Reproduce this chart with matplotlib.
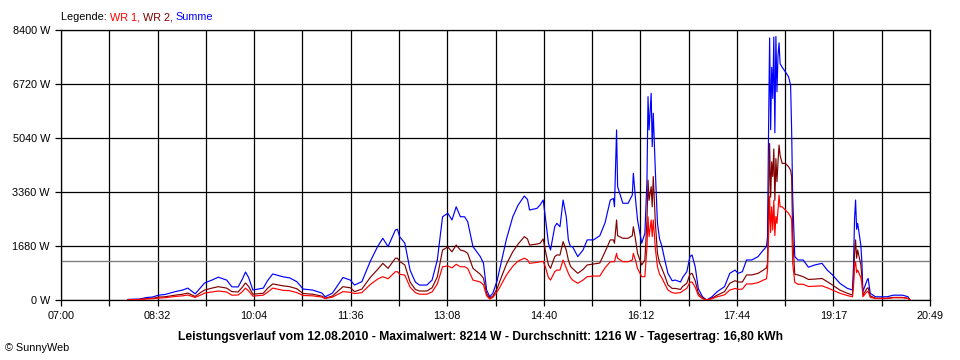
import matplotlib
matplotlib.use("Agg")
import matplotlib.pyplot as plt
from matplotlib.ticker import FixedLocator, FixedFormatter, NullLocator

# ---------------- data ----------------
times = ["08:04","08:15","08:22","08:27","08:33","08:39","08:49","08:56","09:01","09:08",
         "09:13","09:17","09:24","09:30","09:38","09:43","09:49","09:53","09:56","09:59",
         "10:03","10:13","10:17","10:22","10:32","10:38","10:45","10:51","11:00","11:09",
         "11:12","11:19","11:29","11:36","11:40","11:47","11:55","12:02","12:07","12:12",
         "12:19","12:21","12:23","12:28","12:33","12:38","12:42","12:49","12:54","12:59",
         "13:04","13:09","13:13","13:17","13:21","13:25","13:28","13:33","13:40","13:43",
         "13:46","13:49","13:52","13:56","13:59","14:05","14:11","14:16","14:22","14:25",
         "14:27","14:34","14:37","14:40","14:42","14:45","14:47","14:51","14:53","14:56",
         "14:59","15:02","15:04","15:06","15:08","15:13","15:18","15:22","15:28","15:34",
         "15:39","15:44","15:47","15:48","15:50","15:51","15:56","16:01","16:05","16:06",
         "16:08","16:10","16:14","16:17","16:19","16:20","16:21","16:23","16:24","16:25",
         "16:27","16:29","16:31","16:33","16:36","16:39","16:43","16:46","16:51","16:53",
         "16:57","17:00","17:02","17:05","17:08","17:12","17:16","17:21","17:26","17:33",
         "17:38","17:43","17:46","17:50","17:54","17:59","18:05","18:10","18:13","18:14",
         "18:15","18:16","18:17","18:18","18:19","18:20","18:21","18:22","18:23","18:24",
         "18:25","18:26","18:28","18:31","18:34","18:36","18:37","18:38","18:40","18:43",
         "18:48","18:53","18:59","19:06","19:11","19:16","19:23","19:30","19:35","19:36",
         "19:37","19:38","19:39","19:40","19:43","19:44","19:45","19:49","19:50","19:52",
         "19:57","20:08","20:14","20:23","20:28","20:30"]

summe = [20,30,80,90,150,170,260,310,370,190,
         380,530,620,710,620,410,406,650,870,700,
         310,370,600,810,720,690,570,340,310,215,
         100,215,700,620,465,570,1200,1660,1920,1660,
         2180,2200,1970,1770,930,560,465,465,620,1245,
         2590,2700,2490,2900,2590,2590,2435,1660,1350,1150,
         310,100,210,600,1035,1900,2590,2950,3235,3130,
         2800,2850,2955,3110,2590,1765,1555,2280,2385,2280,
         3110,2590,1870,1660,1660,1350,1555,1870,1870,2000,
         2400,3110,3160,2900,5290,3525,3010,3010,3265,3940,
         3165,2490,1765,2075,3730,6325,5290,6430,4770,5810,
         4000,2385,1900,1700,1245,830,600,620,560,700,
         880,1350,1400,1035,350,100,0,100,260,415,
         830,930,830,880,1245,1245,1350,1555,1660,1970,
         5300,8150,5300,7240,6270,8180,5200,8200,6480,7600,
         8000,7350,7240,7100,6950,6690,5290,3215,1350,1245,
         1245,1020,1090,1140,930,780,520,365,310,1035,
         2500,3110,2200,2385,1710,1200,260,620,670,210,
         100,100,150,150,100,0]

wr2 = [10,15,45,50,90,100,150,180,215,110,
       230,310,370,415,370,260,250,400,530,420,
       180,210,360,500,440,415,350,200,180,120,
       55,125,415,380,260,340,700,950,1140,985,
       1300,1300,1200,1090,560,330,280,280,380,720,
       1555,1650,1500,1710,1555,1520,1450,985,800,680,
       200,60,120,350,620,1120,1500,1740,1970,1900,
       1710,1740,1765,1900,1550,1090,985,1350,1400,1400,
       1815,1550,1245,1050,980,830,950,1090,1120,1150,
       1500,1870,1870,1765,2490,2000,1920,1920,2000,2280,
       1900,1450,1090,1245,2490,3730,3100,3525,2900,3840,
       2400,1450,1150,1000,750,470,360,360,330,420,
       520,800,830,600,210,60,0,60,150,260,
       520,600,560,560,780,780,830,930,1000,1140,
       3000,4870,3200,4300,3840,4700,3100,4400,3680,4300,
       4820,4500,4250,4250,4150,4040,3840,1970,800,780,
       725,640,650,670,570,465,310,210,155,600,
       1450,1870,1300,1555,1100,725,155,365,380,130,
       55,55,80,80,50,0]

wr1 = [10,15,35,40,60,70,110,130,155,80,
       150,215,250,280,250,150,155,260,370,280,
       120,150,240,370,300,290,230,140,130,90,
       45,90,260,240,200,230,480,650,725,660,
       880,880,800,775,400,230,180,180,250,500,
       1035,1060,1000,1110,1035,1035,980,620,560,470,
       130,30,80,250,420,780,1050,1210,1300,1250,
       1140,1170,1190,1200,1035,700,620,880,930,930,
       1245,1000,830,700,620,520,620,725,745,745,
       1000,1190,1190,1190,1450,1300,1190,1190,1245,1450,
       1245,980,725,725,1660,2590,1970,2490,1970,2490,
       1600,1035,800,700,500,310,230,210,230,280,
       365,550,560,400,140,40,0,40,100,160,
       310,360,330,340,500,500,540,620,660,930,
       1970,3215,2100,2900,2175,3100,2000,2600,2385,2800,
       3265,2900,2900,2800,2700,2590,2500,1140,550,490,
       490,420,430,440,380,310,210,140,100,400,
       1035,1190,850,930,700,520,100,260,270,80,
       45,45,70,70,50,0]

y_ticks = [0, 1680, 3360, 5040, 6720, 8400]
y_tick_labels = ["0 W", "1680 W", "3360 W", "5040 W", "6720 W", "8400 W"]
x_start, x_end = "07:00", "20:49"
x_tick_labels = ["07:00", "", "08:32", "", "10:04", "", "11:36", "", "13:08", "",
                 "14:40", "", "16:12", "", "17:44", "", "19:17", "", "20:49"]
average = 1216
title = ("Leistungsverlauf vom 12.08.2010 - Maximalwert: 8214 W - "
         "Durchschnitt: 1216 W - Tagesertrag: 16,80 kWh")
legend_parts = [("Legende: ", "#000000"), ("WR 1, ", "#FF0000"),
                ("WR 2, ", "#800000"), ("Summe", "#0000FF")]
copyright_text = "\u00a9 SunnyWeb"

# ---------------- helpers ----------------
def to_min(s):
    h, m = s.split(":")
    return int(h) * 60 + int(m)

t = [to_min(s) for s in times]
t0, t1 = to_min(x_start), to_min(x_end)
n = len(x_tick_labels) - 1
x_ticks = [t0 + (t1 - t0) * k / n for k in range(n + 1)]

# ---------------- figure ----------------
plt.rcParams['font.family'] = ['Liberation Sans', 'DejaVu Sans']
fig = plt.figure(figsize=(9.6, 3.6), dpi=100)
fig.patch.set_facecolor("white")
ax = fig.add_axes([61 / 960, 60 / 360, 869 / 960, 270 / 360])

ax.set_xlim(t0, t1)
ax.set_ylim(0, 8400)

ax.xaxis.set_major_locator(FixedLocator(x_ticks))
ax.xaxis.set_major_formatter(FixedFormatter(x_tick_labels))
ax.yaxis.set_major_locator(FixedLocator(y_ticks))
ax.yaxis.set_major_formatter(FixedFormatter(y_tick_labels))
ax.xaxis.set_minor_locator(NullLocator())
ax.yaxis.set_minor_locator(NullLocator())

ax.grid(True, color="black", linewidth=0.9, zorder=0)
ax.set_axisbelow(True)
ax.tick_params(axis="both", length=4, width=0.9, color="black",
               labelsize=7.8, pad=4)
for sp in ax.spines.values():
    sp.set_color("black")
    sp.set_linewidth(0.9)

ax.axhline(average, color="#808080", linewidth=1.0, zorder=1)

ax.plot(t, summe, color="#0000FF", linewidth=0.85, zorder=3)
ax.plot(t, wr2, color="#800000", linewidth=0.85, zorder=4)
ax.plot(t, wr1, color="#FF0000", linewidth=0.85, zorder=5)

# legend line at top
fig.canvas.draw()
renderer = fig.canvas.get_renderer()
x_px = 61
for txt, col in legend_parts:
    tx = fig.text(x_px / 960, 1 - 17 / 360, txt, color=col, fontsize=7.8,
                  ha="left", va="center")
    bb = tx.get_window_extent(renderer)
    x_px += bb.width

fig.text(480 / 960, 1 - 337 / 360, title, fontsize=8.7, fontweight="bold",
         ha="center", va="center", color="black")
fig.text(5 / 960, 1 - 348 / 360, copyright_text, fontsize=7.8,
         ha="left", va="center", color="black")

fig.savefig("out.png", dpi=100, facecolor="white")
